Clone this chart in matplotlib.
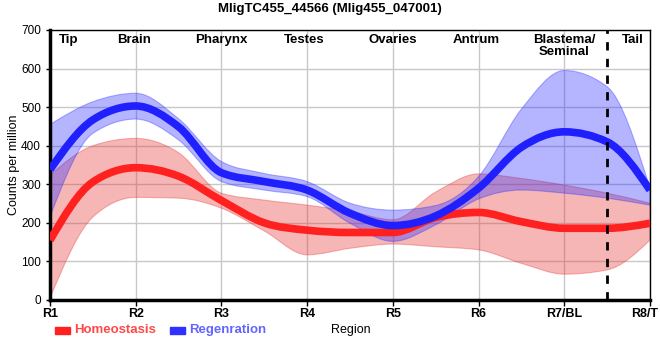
import numpy as np
import matplotlib
matplotlib.use("Agg")
import matplotlib.pyplot as plt
from matplotlib.path import Path
from matplotlib.patches import PathPatch
from matplotlib.transforms import ScaledTranslation

plt.rcParams['font.family'] = ['Liberation Sans', 'DejaVu Sans']

# knots at every half region step (R1 .. R8/T)
pos = np.arange(0, 7.5, 0.5)
tick_labels = ["R1", "R2", "R3", "R4", "R5", "R6", "R7/BL", "R8/T"]
regions = ["Tip", "Brain", "Pharynx", "Testes", "Ovaries", "Antrum", "Blastema/\nSeminal", "Tail"]
region_x = [0.22, 0.98, 2.0, 2.97, 4.0, 4.97, 6.0, 6.8]

homeo_mid = [155, 306, 343, 321, 258, 200, 181, 175, 175, 214, 227, 203, 186, 186, 199]
homeo_hi = [324, 400, 419, 382, 277, 259, 246, 230, 208, 280, 327, 315, 298, 277, 251]
homeo_lo = [5, 215, 266, 264, 238, 179, 117, 134, 145, 138, 130, 95, 67, 78, 155]

regen_mid = [338, 467, 503, 449, 330, 307, 285, 225, 193, 218, 290, 396, 436, 410, 285]
regen_hi = [455, 514, 536, 470, 359, 328, 307, 251, 233, 245, 320, 495, 595, 553, 290]
regen_lo = [216, 432, 469, 415, 307, 285, 268, 199, 152, 195, 262, 285, 277, 264, 246]


def tangents(x, y):
    # monotone cubic slopes (like d3.curveMonotoneX)
    x = np.asarray(x, float)
    y = np.asarray(y, float)
    n = len(x)
    t = np.zeros(n)
    for i in range(1, n - 1):
        h0 = x[i] - x[i - 1]
        h1 = x[i + 1] - x[i]
        s0 = (y[i] - y[i - 1]) / h0
        s1 = (y[i + 1] - y[i]) / h1
        p = (s0 * h1 + s1 * h0) / (h0 + h1)
        t[i] = (np.sign(s0) + np.sign(s1)) * min(abs(s0), abs(s1), 0.5 * abs(p))
    h = x[1] - x[0]
    t[0] = (3 * (y[1] - y[0]) / h - t[1]) / 2
    h = x[-1] - x[-2]
    t[-1] = (3 * (y[-1] - y[-2]) / h - t[-2]) / 2
    return t


def bezier(x, y, reverse=False):
    t = tangents(x, y)
    verts = []
    idx = range(len(x) - 1)
    if not reverse:
        verts.append((x[0], y[0]))
        for i in idx:
            h = x[i + 1] - x[i]
            verts += [(x[i] + h / 3, y[i] + h / 3 * t[i]),
                      (x[i + 1] - h / 3, y[i + 1] - h / 3 * t[i + 1]),
                      (x[i + 1], y[i + 1])]
    else:
        verts.append((x[-1], y[-1]))
        for i in reversed(idx):
            h = x[i + 1] - x[i]
            verts += [(x[i + 1] - h / 3, y[i + 1] - h / 3 * t[i + 1]),
                      (x[i] + h / 3, y[i] + h / 3 * t[i]),
                      (x[i], y[i])]
    return verts


def draw_line(ax, x, y, color):
    v = bezier(x, y)
    codes = [Path.MOVETO] + [Path.CURVE4] * (len(v) - 1)
    ax.add_patch(PathPatch(Path(v, codes), fill=False, edgecolor=color, lw=5.5,
                           capstyle='butt', zorder=4))


def draw_band(ax, x, lo, hi, color):
    up = bezier(x, hi)
    down = bezier(x, lo, reverse=True)
    v = up + down + [up[0]]
    codes = ([Path.MOVETO] + [Path.CURVE4] * (len(up) - 1) + [Path.LINETO]
             + [Path.CURVE4] * (len(down) - 1) + [Path.CLOSEPOLY])
    ax.add_patch(PathPatch(Path(v, codes), facecolor=color, edgecolor=color,
                           alpha=0.35, lw=0.8, zorder=2))


fig = plt.figure(figsize=(6.6, 3.6), dpi=100)
ax = fig.add_axes([50 / 660, 60 / 360, 600 / 660, 270 / 360])

red = '#ff2020'
blue = '#2020ff'
draw_band(ax, pos, homeo_lo, homeo_hi, '#e83030')
draw_band(ax, pos, regen_lo, regen_hi, '#2a2aff')
draw_line(ax, pos, homeo_mid, red)
draw_line(ax, pos, regen_mid, blue)

ax.axvline(6.5, color='black', lw=2, ls=(0, (3, 3)), zorder=5)

ax.set_xlim(0, 7)
ax.set_ylim(0, 700)
ax.set_xticks(range(8))
ax.set_xticklabels(tick_labels, fontsize=9, fontweight='bold')
ax.set_yticks(range(0, 701, 100))
ax.tick_params(axis='y', labelsize=8.5, length=3, width=1)
ax.tick_params(axis='x', length=4, width=1, pad=2)
ax.grid(True, color='#c8c8c8', lw=1, zorder=0)
ax.set_axisbelow(True)
for s in ['top', 'right']:
    ax.spines[s].set_linewidth(1)
ax.spines['left'].set_linewidth(2.5)
ax.spines['bottom'].set_linewidth(2.5)

# keep the last tick label inside the figure
last = ax.get_xticklabels()[-1]
last.set_transform(last.get_transform() + ScaledTranslation(-5 / 100, 0, fig.dpi_scale_trans))

for rx, name in zip(region_x, regions):
    ax.text(rx, 690, name, ha='center', va='top', fontsize=9.5, fontweight='bold',
            linespacing=1.0, zorder=6)

fig.text(0.5, 0.975, "MligTC455_44566 (Mlig455_047001)", ha='center', va='center',
         fontsize=9.5, fontweight='bold')
fig.text(14 / 660, (360 - 165) / 360, "Counts per million", rotation=90,
         ha='center', va='center', fontsize=9)
fig.text(351 / 660, (360 - 330) / 360, "Region", ha='center', va='center', fontsize=9)

# legend
fig.patches.append(plt.Rectangle((55 / 660, (360 - 334) / 360), 15 / 660, 7 / 360,
                                 transform=fig.transFigure, color=red))
fig.text(74 / 660, (360 - 330) / 360, "Homeostasis", color='#ff4848', fontsize=9.5,
         va='center', fontweight='bold')
fig.patches.append(plt.Rectangle((170 / 660, (360 - 334) / 360), 15 / 660, 7 / 360,
                                 transform=fig.transFigure, color='#3030ff'))
fig.text(189 / 660, (360 - 330) / 360, "Regenration", color='#6464ff', fontsize=9.5,
         va='center', fontweight='bold')

fig.savefig("out.png", dpi=100)
